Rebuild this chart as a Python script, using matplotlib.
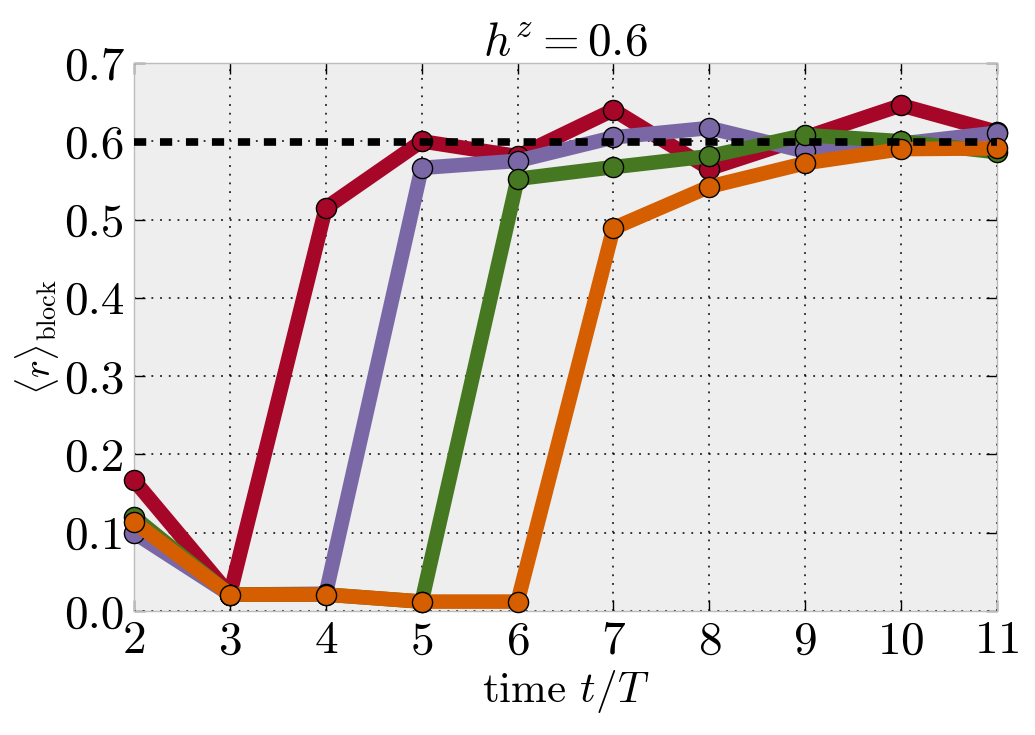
import numpy as np
import matplotlib
matplotlib.use('Agg')
import matplotlib.pyplot as plt

# Fuente tipo LaTeX (Computer Modern)
plt.rcParams['font.family'] = 'serif'
plt.rcParams['font.serif'] = ['cmr10']
plt.rcParams['mathtext.fontset'] = 'cm'
plt.rcParams['axes.formatter.use_mathtext'] = True

# Datos
tiempos = [2, 3, 4, 5, 6, 7, 8, 9, 10, 11]
r_rojo = [0.167, 0.021, 0.515, 0.600, 0.581, 0.640, 0.565, 0.605, 0.646, 0.612]
r_morado = [0.100, 0.021, 0.022, 0.566, 0.575, 0.605, 0.617, 0.587, 0.597, 0.611]
r_verde = [0.120, 0.021, 0.021, 0.012, 0.552, 0.567, 0.581, 0.608, 0.600, 0.586]
r_naranja = [0.114, 0.021, 0.021, 0.012, 0.012, 0.489, 0.542, 0.572, 0.590, 0.591]
r_referencia = 0.5996

series = [r_rojo, r_morado, r_verde, r_naranja]
colores = ['#A60628', '#7A68A6', '#467821', '#D55E00']

fig = plt.figure(figsize=(10.35, 7.35), dpi=100)
ax = fig.add_axes([134 / 1035, 1 - 611 / 735, (997 - 134) / 1035, (611 - 63) / 735])
ax.set_facecolor('#eeeeee')

for valores, color in zip(series, colores):
    ax.plot(tiempos, valores, '-o', color=color, lw=10.5, ms=14.5,
            mec='black', mew=1, clip_on=False, zorder=3)

ax.axhline(r_referencia, color='black', lw=5.5, ls=(0, (1.6, 1.8)), zorder=5)

ax.set_xlim(2, 11)
ax.set_ylim(0, 0.7)
ax.set_xticks(tiempos)
ax.set_yticks(np.arange(0, 0.71, 0.1))
ax.set_yticklabels(['%.1f' % v for v in np.arange(0, 0.71, 0.1)])

ax.grid(True, color='black', ls=(0, (1.2, 4.5)), lw=1.1)
ax.set_axisbelow(True)
for s in ax.spines.values():
    s.set_color('#bcbcbc')
    s.set_linewidth(1)

ax.tick_params(direction='in', length=8, width=1, top=True, right=True,
               labelsize=34, pad=7)

ax.set_xlabel(r'time $t/T$', fontsize=31, labelpad=4)
ax.set_ylabel(r'$\langle r\rangle_{\rm block}$', fontsize=27, labelpad=2)
ax.set_title(r'$h^z = 0.6$', fontsize=34, pad=6)

plt.savefig('out.png', dpi=100)
